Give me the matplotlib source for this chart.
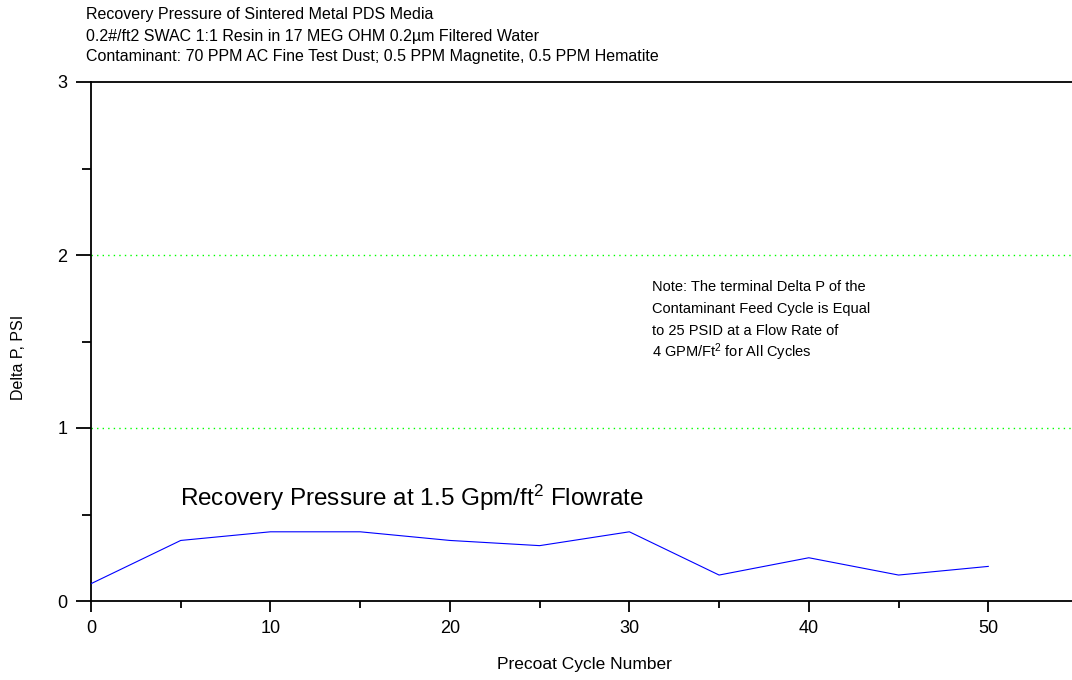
import matplotlib
matplotlib.use("Agg")
import matplotlib.pyplot as plt
from matplotlib.ticker import MultipleLocator

plt.rcParams['font.family'] = ['Liberation Sans', 'DejaVu Sans']
plt.rcParams['mathtext.fontset'] = 'custom'
plt.rcParams['mathtext.rm'] = 'Liberation Sans'
plt.rcParams['mathtext.it'] = 'Liberation Sans:italic'
plt.rcParams['mathtext.bf'] = 'Liberation Sans:bold'

# Data
cycles = [0, 5, 10, 15, 20, 25, 30, 35, 40, 45, 50]
delta_p = [0.10, 0.35, 0.40, 0.40, 0.35, 0.32, 0.40, 0.15, 0.25, 0.15, 0.20]
ref_levels = [1, 2]
x_ticks = [0, 10, 20, 30, 40, 50]
y_ticks = [0, 1, 2, 3]

title_lines = [
    "Recovery Pressure of Sintered Metal PDS Media",
    "0.2#/ft2 SWAC 1:1 Resin in 17 MEG OHM 0.2\u00b5m Filtered Water",
    "Contaminant: 70 PPM AC Fine Test Dust; 0.5 PPM Magnetite, 0.5 PPM Hematite",
]
note_lines = [
    "Note: The terminal Delta P of the",
    "Contaminant Feed Cycle is Equal",
    "to 25 PSID at a Flow Rate of",
    "4 GPM/Ft$^2$ for All Cycles",
]
series_label = "Recovery Pressure at 1.5 Gpm/ft$^2$ Flowrate"

W, H = 1072, 680
fig = plt.figure(figsize=(W / 100, H / 100), dpi=100)
ax = fig.add_axes([91 / W, 1 - 601 / H, (1078 - 91) / W, (601 - 82) / H])

for lvl in ref_levels:
    ax.axhline(lvl, color='#00ff00', linestyle=(0, (1, 3)), linewidth=1.0, zorder=1)

ax.plot(cycles, delta_p, color='#0000ff', linewidth=0.8, zorder=3)

ax.set_xlim(0, 55)
ax.set_ylim(0, 3)
ax.set_xticks(x_ticks)
ax.set_yticks(y_ticks)
ax.xaxis.set_minor_locator(MultipleLocator(5))
ax.yaxis.set_minor_locator(MultipleLocator(0.5))

ax.spines['right'].set_visible(False)
for s in ['left', 'bottom', 'top']:
    ax.spines[s].set_linewidth(1.3)

ax.tick_params(axis='y', which='major', direction='out', length=11, width=1.3,
               labelsize=13, pad=6)
ax.tick_params(axis='y', which='minor', direction='out', length=6.5, width=1.3)
ax.tick_params(axis='x', which='major', direction='out', length=8, width=1.3,
               labelsize=13, pad=6)
ax.tick_params(axis='x', which='minor', direction='out', length=5, width=1.3)

ax.set_ylabel("Delta P, PSI", fontsize=11.5)
ax.yaxis.set_label_coords(-(91 - 26) / (1078 - 91), (601 - 357) / (601 - 82))
ax.set_xlabel("Precoat Cycle Number", fontsize=12.5, labelpad=14)

# Title lines
for i, line in enumerate(title_lines):
    fig.text(86 / W, 1 - (15 + 21 * i) / H, line, fontsize=11.5,
             ha='left', va='center')

# Note lines
for i, line in enumerate(note_lines):
    fig.text(652 / W, 1 - (291 + 22 * i) / H, line, fontsize=10.5,
             ha='left', va='baseline')

# Series label
fig.text(180 / W, 1 - 498 / H, series_label, fontsize=17.5, ha='left', va='center')

fig.savefig("out.png", dpi=100)
